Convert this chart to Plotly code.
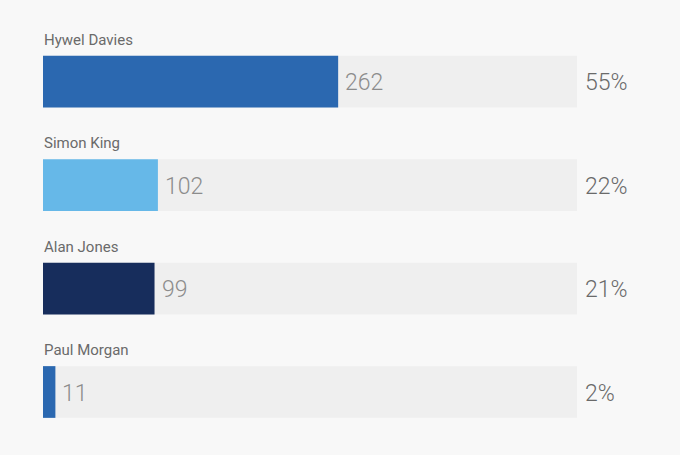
import plotly.graph_objects as go

names = ["Hywel Davies", "Simon King", "Alan Jones", "Paul Morgan"]
votes = [262, 102, 99, 11]
percents = ["55%", "22%", "21%", "2%"]
colors = ["#2b68b0", "#66b8e8", "#172d5c", "#2b68b0"]

total = sum(votes)

fig = go.Figure()
fig.add_trace(go.Bar(
    y=names, x=[total] * len(names), orientation="h",
    marker=dict(color="#efefef", line=dict(width=0)),
    hoverinfo="skip", showlegend=False,
))
fig.add_trace(go.Bar(
    y=names, x=votes, orientation="h",
    marker=dict(color=colors, line=dict(width=0)),
    showlegend=False,
))

for n, v, p in zip(names, votes, percents):
    fig.add_annotation(x=0, y=n, text=n, showarrow=False, xanchor="left",
                       yanchor="middle", yshift=42, xshift=-1,
                       font=dict(family="Roboto", size=15, color="#6a6a6a"))
    fig.add_annotation(x=v, y=n, text=str(v), showarrow=False, xanchor="left",
                       yanchor="middle", xshift=5, yshift=-1,
                       font=dict(family="Roboto", size=23, color="#8c8c8c", weight=300))
    fig.add_annotation(x=total, y=n, text=p, showarrow=False, xanchor="left",
                       yanchor="middle", xshift=6, yshift=-1,
                       font=dict(family="Roboto", size=23, color="#6a6a6a", weight=300))

fig.update_layout(
    width=680, height=455,
    margin=dict(l=43, r=103, t=30, b=10),
    paper_bgcolor="#f8f8f8", plot_bgcolor="#f8f8f8",
    barmode="overlay", bargap=0.5,
    xaxis=dict(range=[0, total], visible=False, fixedrange=True),
    yaxis=dict(autorange="reversed", visible=False, fixedrange=True),
)

fig.write_html(
    "out.html",
    config={"displayModeBar": False},
    post_script="document.body.style.margin='0';document.body.style.background='#f8f8f8';document.body.style.overflow='hidden';",
)
